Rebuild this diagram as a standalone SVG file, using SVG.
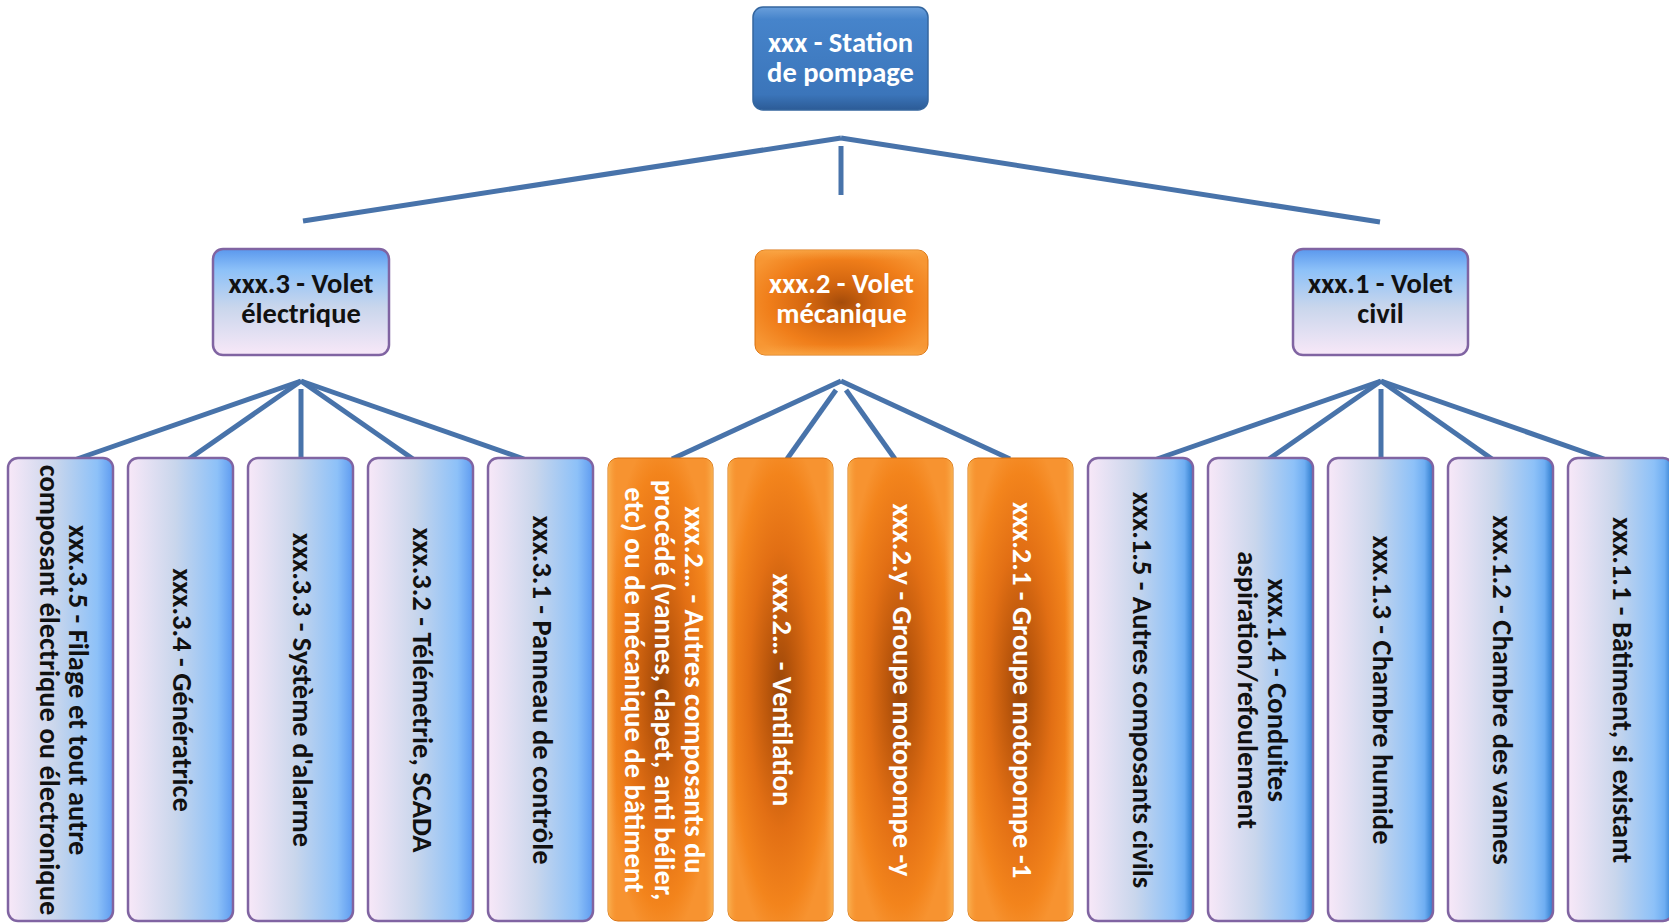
<svg xmlns="http://www.w3.org/2000/svg" width="1669" height="923" viewBox="0 0 1669 923">
<defs>
<linearGradient id="gRoot" x1="0" y1="0" x2="0" y2="1">
<stop offset="0" stop-color="#6A9FDB"/>
<stop offset="0.12" stop-color="#4684CB"/>
<stop offset="0.85" stop-color="#3B75BA"/>
<stop offset="1" stop-color="#2C5B96"/>
</linearGradient>
<linearGradient id="gL2" x1="0" y1="0" x2="0" y2="1">
<stop offset="0" stop-color="#5A98EE"/>
<stop offset="0.2" stop-color="#8DC1F8"/>
<stop offset="0.55" stop-color="#C9D6EC"/>
<stop offset="1" stop-color="#F8E8F8"/>
</linearGradient>
<linearGradient id="gL3a" x1="0" y1="0" x2="1" y2="0">
<stop offset="0" stop-color="#F8E8F8"/>
<stop offset="0.45" stop-color="#C9D6EC"/>
<stop offset="0.85" stop-color="#8DC1F8"/>
<stop offset="1" stop-color="#5E9BF0"/>
</linearGradient>
<linearGradient id="gL3c" x1="0" y1="0" x2="1" y2="0">
<stop offset="0" stop-color="#F8E8F8"/>
<stop offset="0.45" stop-color="#C9D6EC"/>
<stop offset="0.82" stop-color="#8DC1F8"/>
<stop offset="0.92" stop-color="#6FAEF2"/>
<stop offset="1" stop-color="#2C7ACB"/>
</linearGradient>
<radialGradient id="gOr" cx="0.5" cy="0.5" r="0.55">
<stop offset="0" stop-color="#9A4608"/>
<stop offset="0.25" stop-color="#BD580C"/>
<stop offset="0.55" stop-color="#E26F14"/>
<stop offset="0.85" stop-color="#F3841C"/>
<stop offset="1" stop-color="#F79330"/>
</radialGradient>
<radialGradient id="gOr2" cx="0.5" cy="0.5" r="0.6">
<stop offset="0" stop-color="#A54C0A"/>
<stop offset="0.3" stop-color="#D2650F"/>
<stop offset="0.7" stop-color="#F07E1A"/>
<stop offset="1" stop-color="#F79633"/>
</radialGradient>
<linearGradient id="gOrEdge" x1="0" y1="0" x2="1" y2="0">
<stop offset="0" stop-color="#FBC060" stop-opacity="0.7"/>
<stop offset="0.08" stop-color="#F8A040" stop-opacity="0"/>
<stop offset="0.92" stop-color="#F8A040" stop-opacity="0"/>
<stop offset="1" stop-color="#FBC060" stop-opacity="0.7"/>
</linearGradient>
<linearGradient id="gOrEdgeV" x1="0" y1="0" x2="0" y2="1">
<stop offset="0" stop-color="#FBB050" stop-opacity="0.6"/>
<stop offset="0.1" stop-color="#F8A040" stop-opacity="0"/>
<stop offset="0.9" stop-color="#F8A040" stop-opacity="0"/>
<stop offset="1" stop-color="#FBB050" stop-opacity="0.6"/>
</linearGradient>
</defs>
<style>
.conn line{stroke:#4873AA;stroke-width:5;fill:none}
.root{fill:url(#gRoot);stroke:#34669F;stroke-width:1.5}
.l2b{fill:url(#gL2);stroke:#8064A2;stroke-width:2.5}
.l3a{fill:url(#gL3a);stroke:#8064A2;stroke-width:2.5}
.l3c{fill:url(#gL3c);stroke:#8064A2;stroke-width:2.5}
.or{fill:url(#gOr);stroke:#D8700F;stroke-width:1}
.or2{fill:url(#gOr2);stroke:#D8700F;stroke-width:1}
.ore{fill:url(#gOrEdge);stroke:none}
.orv{fill:url(#gOrEdgeV);stroke:none}
text{font-family:Carlito,Lato,"Open Sans","Liberation Sans",sans-serif;font-weight:bold;font-size:28.5px;text-anchor:middle}
.w{fill:#FFFFFF}
.k{fill:#111111}
</style>

<g id="connectors" class="conn">
<line x1="841" y1="138" x2="303" y2="221"/>
<line x1="841" y1="138" x2="1380" y2="222"/>
<line x1="841" y1="146" x2="841" y2="195"/>
<line x1="301" y1="381" x2="77" y2="459"/>
<line x1="301" y1="381" x2="189" y2="459"/>
<line x1="301" y1="389" x2="301" y2="459"/>
<line x1="301" y1="381" x2="413" y2="459"/>
<line x1="301" y1="381" x2="524" y2="459"/>
<line x1="841" y1="381" x2="672" y2="459"/>
<line x1="836" y1="390" x2="787" y2="459"/>
<line x1="846" y1="390" x2="895" y2="459"/>
<line x1="841" y1="381" x2="1010" y2="459"/>
<line x1="1381" y1="381" x2="1157" y2="459"/>
<line x1="1381" y1="381" x2="1269" y2="459"/>
<line x1="1381" y1="389" x2="1381" y2="459"/>
<line x1="1381" y1="381" x2="1492" y2="459"/>
<line x1="1381" y1="381" x2="1604" y2="459"/>
</g>

<g id="n-root">
<rect class="root" x="753" y="7" width="175" height="103" rx="10"/>
<text class="w" x="840.5" y="52">xxx - Station</text>
<text class="w" x="840.5" y="82">de pompage</text>
</g>

<g id="n-3">
<rect class="l2b" x="213" y="249" width="176" height="106" rx="10"/>
<text class="k" x="301" y="293">xxx.3 - Volet</text>
<text class="k" x="301" y="323">électrique</text>
</g>
<g id="n-2">
<rect class="or2" x="755" y="250" width="173" height="105" rx="10"/>
<rect class="orv" x="755" y="250" width="173" height="105" rx="10"/>
<text class="w" x="841.5" y="293">xxx.2 - Volet</text>
<text class="w" x="841.5" y="323">mécanique</text>
</g>
<g id="n-1">
<rect class="l2b" x="1293" y="249" width="175" height="106" rx="10"/>
<text class="k" x="1380.5" y="293">xxx.1 - Volet</text>
<text class="k" x="1380.5" y="323">civil</text>
</g>

<g id="n-3-5">
<rect class="l3a" x="8" y="458" width="105" height="463" rx="10"/>
<text class="k" transform="translate(60.5,690) rotate(90)"><tspan x="0" y="-8">xxx.3.5 - Filage et tout autre</tspan><tspan x="0" y="21">composant électrique ou électronique</tspan></text>
</g>
<g id="n-3-4">
<rect class="l3a" x="128" y="458" width="105" height="463" rx="10"/>
<text class="k" transform="translate(180.5,690) rotate(90)" y="8">xxx.3.4 - Génératrice</text>
</g>
<g id="n-3-3">
<rect class="l3a" x="248" y="458" width="105" height="463" rx="10"/>
<text class="k" transform="translate(300.5,690) rotate(90)" y="8">xxx.3.3 - Système d'alarme</text>
</g>
<g id="n-3-2">
<rect class="l3a" x="368" y="458" width="105" height="463" rx="10"/>
<text class="k" transform="translate(420.5,690) rotate(90)" y="8">xxx.3.2 - Télémetrie, SCADA</text>
</g>
<g id="n-3-1">
<rect class="l3a" x="488" y="458" width="105" height="463" rx="10"/>
<text class="k" transform="translate(540.5,690) rotate(90)" y="8">xxx.3.1 - Panneau de contrôle</text>
</g>

<g id="n-2-x">
<rect class="or" x="608" y="458" width="105" height="463" rx="10"/>
<rect class="ore" x="608" y="458" width="105" height="463" rx="10"/>
<text class="w" transform="translate(660.5,690) rotate(90)"><tspan x="0" y="-24">xxx.2… - Autres composants du</tspan><tspan x="0" y="6">procédé (vannes, clapet, anti bélier,</tspan><tspan x="0" y="36">etc) ou de mécanique de bâtiment</tspan></text>
</g>
<g id="n-2-v">
<rect class="or" x="728" y="458" width="105" height="463" rx="10"/>
<rect class="ore" x="728" y="458" width="105" height="463" rx="10"/>
<text class="w" transform="translate(780.5,690) rotate(90)" y="8">xxx.2… - Ventilation</text>
</g>
<g id="n-2-y">
<rect class="or" x="848" y="458" width="105" height="463" rx="10"/>
<rect class="ore" x="848" y="458" width="105" height="463" rx="10"/>
<text class="w" transform="translate(900.5,690) rotate(90)" y="8">xxx.2.y - Groupe motopompe -y</text>
</g>
<g id="n-2-1">
<rect class="or" x="968" y="458" width="105" height="463" rx="10"/>
<rect class="ore" x="968" y="458" width="105" height="463" rx="10"/>
<text class="w" transform="translate(1020.5,690) rotate(90)" y="8">xxx.2.1 - Groupe motopompe -1</text>
</g>

<g id="n-1-5">
<rect class="l3c" x="1088" y="458" width="105" height="463" rx="10"/>
<text class="k" transform="translate(1140.5,690) rotate(90)" y="8">xxx.1.5 - Autres composants civils</text>
</g>
<g id="n-1-4">
<rect class="l3c" x="1208" y="458" width="105" height="463" rx="10"/>
<text class="k" transform="translate(1260.5,690) rotate(90)"><tspan x="0" y="-7">xxx.1.4 - Conduites</tspan><tspan x="0" y="23">aspiration/refoulement</tspan></text>
</g>
<g id="n-1-3">
<rect class="l3c" x="1328" y="458" width="105" height="463" rx="10"/>
<text class="k" transform="translate(1380.5,690) rotate(90)" y="8">xxx.1.3 - Chambre humide</text>
</g>
<g id="n-1-2">
<rect class="l3c" x="1448" y="458" width="105" height="463" rx="10"/>
<text class="k" transform="translate(1500.5,690) rotate(90)" y="8">xxx.1.2 - Chambre des vannes</text>
</g>
<g id="n-1-1">
<rect class="l3c" x="1568" y="458" width="105" height="463" rx="10"/>
<text class="k" transform="translate(1620.5,690) rotate(90)" y="8">xxx.1.1 - Bâtiment, si existant</text>
</g>
</svg>
